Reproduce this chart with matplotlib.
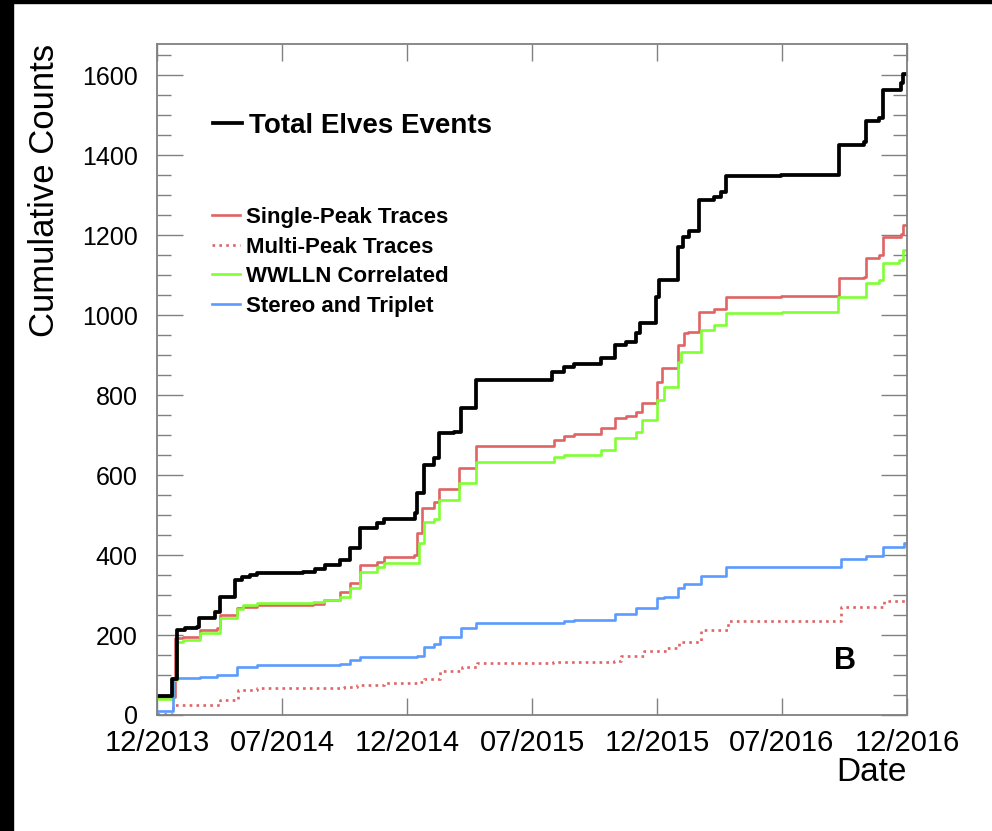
import matplotlib
matplotlib.use("Agg")
import matplotlib.pyplot as plt
from matplotlib.lines import Line2D
from matplotlib.patches import Rectangle
from matplotlib.ticker import MultipleLocator

plt.rcParams['font.family'] = ['Liberation Sans', 'DejaVu Sans']

# x in months since 12/2013, values are cumulative counts (step after each point)
tick_labels = ['12/2013', '07/2014', '12/2014', '07/2015', '12/2015', '07/2016', '12/2016']

total_m = [0, 0.72, 0.95, 1.35, 1.9, 2.03, 2.79, 3.03, 3.75, 4.07, 4.47, 4.79, 7.03, 7.6, 8.08,
           8.8, 9.28, 9.76, 10.56, 10.88, 12.4, 12.49, 12.8, 13.28, 13.52, 14.25, 14.57, 15.29,
           18.98, 19.54, 20.0, 21.3, 22.0, 22.5, 22.98, 23.2, 23.94, 24.09, 25.0, 25.24, 25.53,
           26.0, 26.73, 27.07, 27.3, 29.95, 32.74, 33.94, 34.04, 34.66, 34.86, 35.72, 35.82, 36]
total_v = [48, 90, 212, 217, 220, 242, 258, 295, 337, 345, 350, 356, 358, 366, 375,
           387, 417, 467, 480, 490, 504, 554, 625, 642, 704, 708, 767, 838,
           858, 869, 877, 892, 925, 933, 955, 980, 1045, 1087, 1170, 1195, 1210,
           1287, 1295, 1307, 1347, 1350, 1425, 1433, 1485, 1492, 1562, 1580, 1602, 1602]

single_m = [0, 0.87, 1.27, 2.07, 2.87, 3.03, 3.83, 4.15, 4.79, 7.5, 8.0, 8.8, 9.28, 9.76,
            10.56, 10.88, 12.32, 12.49, 12.73, 13.28, 13.52, 14.49, 15.29, 19.04, 19.52, 20.0,
            21.3, 22.0, 22.5, 22.98, 23.3, 24.02, 24.26, 24.99, 25.3, 25.48, 26.0, 26.73, 27.3,
            29.95, 32.74, 33.94, 34.04, 34.66, 34.86, 35.72, 35.82, 36]
single_v = [45, 192, 195, 212, 217, 250, 267, 270, 275, 278, 287, 308, 330, 375,
            382, 396, 400, 455, 517, 533, 565, 617, 672, 687, 697, 702,
            717, 742, 747, 757, 780, 832, 867, 925, 955, 958, 1007, 1015, 1045,
            1048, 1092, 1095, 1142, 1150, 1195, 1203, 1225, 1225]

multi_m = [0, 0.77, 3.03, 3.91, 4.79, 8.96, 9.6, 10.88, 12.49, 12.8, 13.6, 14.65, 15.37,
           19.0, 21.94, 22.26, 23.38, 24.5, 25.06, 26.1, 27.39, 32.84, 34.92, 36]
multi_v = [3, 25, 37, 62, 67, 70, 75, 80, 82, 90, 110, 120, 130,
           133, 135, 147, 160, 167, 182, 212, 235, 270, 285, 285]

wwlln_m = [0, 0.77, 0.96, 1.27, 2.07, 3.03, 3.83, 4.15, 4.79, 7.5, 8.0, 8.8, 9.28, 9.76,
           10.56, 10.88, 12.57, 12.8, 13.28, 13.52, 14.49, 15.29, 19.05, 19.54, 21.3, 22.0,
           22.98, 23.3, 24.02, 24.34, 24.99, 25.14, 26.1, 26.73, 27.3, 30.0, 32.7, 34.04,
           34.66, 34.86, 35.6, 35.82, 36]
wwlln_v = [40, 88, 183, 187, 205, 242, 265, 275, 280, 282, 287, 295, 317, 357,
           370, 380, 430, 482, 490, 537, 580, 632, 645, 650, 662, 692,
           707, 737, 787, 820, 882, 907, 962, 975, 1005, 1007, 1045, 1080,
           1087, 1130, 1137, 1162, 1162]

stereo_m = [0, 0.77, 2.07, 2.87, 3.83, 4.79, 8.8, 9.28, 9.76, 12.49, 12.8, 13.28, 13.6, 14.57,
            15.29, 19.54, 20.0, 22.0, 22.98, 24.02, 24.34, 24.99, 25.3, 26.1, 27.3, 32.84,
            34.04, 34.84, 35.88, 36]
stereo_v = [10, 92, 95, 100, 120, 125, 127, 137, 145, 147, 170, 177, 195, 217,
            230, 235, 237, 252, 267, 292, 295, 317, 327, 347, 370, 390,
            397, 420, 430, 430]

red = '#e06464'
green = '#80ff33'
blue = '#5b9bff'
lw_c = 1.9
lw_k = 2.7

fig = plt.figure(figsize=(9.92, 8.31), dpi=100)
ax = fig.add_axes([0.1583, 0.1396, 0.756, 0.8075])

ax.plot(single_m, single_v, drawstyle='steps-post', color=red, lw=lw_c)
ax.plot(multi_m, multi_v, drawstyle='steps-post', color=red, lw=lw_c, linestyle=(0, (1, 1.6)))
ax.plot(wwlln_m, wwlln_v, drawstyle='steps-post', color=green, lw=lw_c)
ax.plot(stereo_m, stereo_v, drawstyle='steps-post', color=blue, lw=lw_c)
ax.plot(total_m, total_v, drawstyle='steps-post', color='black', lw=lw_k)

ax.set_xlim(0, 36)
ax.set_ylim(0, 1678)

ax.set_xticks(range(0, 37, 6))
ax.set_xticklabels(tick_labels)
ax.yaxis.set_major_locator(MultipleLocator(200))
ax.yaxis.set_minor_locator(MultipleLocator(50))

for s in ax.spines.values():
    s.set_color('#808080')
    s.set_linewidth(1.3)

ax.tick_params(axis='x', which='major', direction='in', length=12.5, width=1,
               color='#808080', top=True, labelsize=21, pad=10)
ax.tick_params(axis='y', which='major', direction='in', length=19, width=1,
               color='#808080', right=True, labelsize=18, pad=14)
ax.tick_params(axis='y', which='minor', direction='in', length=10, width=1,
               color='#808080', right=True)

ax.set_ylabel('Cumulative Counts', fontsize=25, loc='top')
ax.yaxis.set_label_coords(-0.128, 1.0)
ax.set_xlabel('Date', fontsize=24, loc='right')
ax.xaxis.set_label_coords(1.0, -0.062)

h_total = [Line2D([], [], color='black', lw=lw_k)]
leg1 = ax.legend(h_total, ['Total Elves Events'], loc='upper left',
                 bbox_to_anchor=(0.041, 0.935), frameon=False,
                 prop={'size': 20, 'weight': 'bold'},
                 handlelength=1.05, handletextpad=0.25)
ax.add_artist(leg1)

h_rest = [Line2D([], [], color=red, lw=lw_c),
          Line2D([], [], color=red, lw=lw_c, linestyle=(0, (1, 1.6))),
          Line2D([], [], color=green, lw=lw_c),
          Line2D([], [], color=blue, lw=lw_c)]
ax.legend(h_rest, ['Single-Peak Traces', 'Multi-Peak Traces', 'WWLLN Correlated',
                   'Stereo and Triplet'],
          loc='upper left', bbox_to_anchor=(0.046, 0.787), frameon=False,
          prop={'size': 16, 'weight': 'bold'},
          handlelength=1.3, handletextpad=0.27, labelspacing=0.39)

ax.text(0.917, 0.08, 'B', transform=ax.transAxes, fontsize=22, fontweight='bold',
        ha='center', va='center')

# black strips along the left and top edges of the image
fig.patches.append(Rectangle((0, 0), 13 / 992, 1, transform=fig.transFigure,
                             color='black', zorder=10))
fig.patches.append(Rectangle((0, 1 - 3 / 831), 1, 3 / 831, transform=fig.transFigure,
                             color='black', zorder=10))

fig.savefig('out.png', dpi=100)
plt.close(fig)
